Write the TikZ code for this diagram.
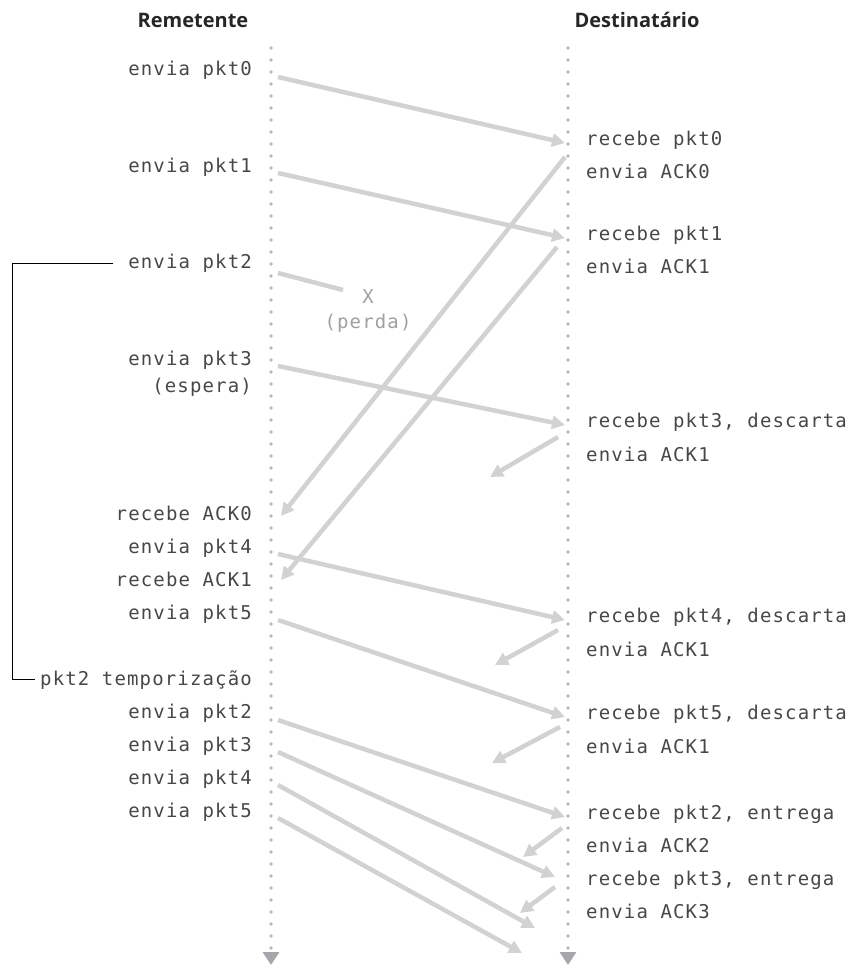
\documentclass[tikz,border=0pt]{standalone}
\usepackage{fontspec}
\setmonofont[LetterSpace=6]{DejaVu Sans Mono}
\newfontfamily\headfont{Open Sans}
\usetikzlibrary{arrows.meta,positioning}
\definecolor{seqtext}{HTML}{474747}
\definecolor{seqarrow}{HTML}{D2D2D2}
\definecolor{seqdot}{HTML}{B8B8BD}
\definecolor{seqtip}{HTML}{A6A6AB}
\definecolor{seqlost}{HTML}{A0A0A0}

\begin{document}
\begin{tikzpicture}[x=1pt,y=-1pt, every node/.style={inner sep=0pt}]
\tikzset{lbl/.style={font=\fontsize{19}{22}\selectfont\ttfamily,text=seqtext}, sndlbl/.style={lbl,anchor=mid east}, rcvlbl/.style={lbl,anchor=mid west}, head/.style={font=\fontsize{20}{24}\selectfont\headfont\bfseries,text=black!85}, life/.style={draw=seqdot,line width=3.6pt,line cap=round,dash pattern=on 0pt off 12pt,-{Triangle[length=13pt,width=16pt,color=seqtip]}}, msg/.style={draw=seqarrow,line width=4.5pt,-{Triangle[length=13pt,width=13pt]}}, lostmsg/.style={draw=seqarrow,line width=4.5pt}, bracket/.style={draw=black,line width=0.8pt}}
\useasboundingbox (0,0) rectangle (852,967);
% lifelines
\node[head] (rem) at (193,20) {Remetente};
\node[head] (dst) at (637,20) {Destinatário};
\coordinate (ltop) at (271,48);
\coordinate (lbot) at (271,965);
\coordinate (rtop) at (568,48);
\coordinate (rbot) at (568,965);
\draw[life] (ltop) -- (lbot);
\draw[life] (rtop) -- (rbot);
% sender side
\node[sndlbl] (snd0) at (252,73) {envia pkt0};
\node[sndlbl] (snd1) at (252,170) {envia pkt1};
\node[sndlbl] (snd2) at (252,266) {envia pkt2};
\node[sndlbl] (snd3) at (252,363) {envia pkt3};
\node[sndlbl] (wait) at (252,390) {(espera)};
\node[sndlbl] (rack0) at (252,518) {recebe ACK0};
\node[sndlbl] (snd4) at (252,551) {envia pkt4};
\node[sndlbl] (rack1) at (252,584) {recebe ACK1};
\node[sndlbl] (snd5) at (252,617) {envia pkt5};
\node[sndlbl] (tmo) at (252,683) {pkt2 temporização};
\node[sndlbl] (re2) at (252,716) {envia pkt2};
\node[sndlbl] (re3) at (252,749) {envia pkt3};
\node[sndlbl] (re4) at (252,782) {envia pkt4};
\node[sndlbl] (re5) at (252,815) {envia pkt5};
% receiver side
\node[rcvlbl] (rcv0) at (586,143) {recebe pkt0};
\node[rcvlbl] (ack0) at (586,176) {envia ACK0};
\node[rcvlbl] (rcv1) at (586,238) {recebe pkt1};
\node[rcvlbl] (ack1) at (586,271) {envia ACK1};
\node[rcvlbl] (rcv3) at (586,425) {recebe pkt3, descarta};
\node[rcvlbl] (ack1b) at (586,459) {envia ACK1};
\node[rcvlbl] (rcv4) at (586,620) {recebe pkt4, descarta};
\node[rcvlbl] (ack1c) at (586,654) {envia ACK1};
\node[rcvlbl] (rcv5) at (586,717) {recebe pkt5, descarta};
\node[rcvlbl] (ack1d) at (586,751) {envia ACK1};
\node[rcvlbl] (dlv2) at (586,817) {recebe pkt2, entrega};
\node[rcvlbl] (ack2) at (586,850) {envia ACK2};
\node[rcvlbl] (dlv3) at (586,883) {recebe pkt3, entrega};
\node[rcvlbl] (ack3) at (586,916) {envia ACK3};
% loss of pkt2
\coordinate (lost2) at (343,290);
\node[lbl,text=seqlost] (xmark) at (368,297) {X};
\node[lbl,text=seqlost] (perda) at (368,323) {(perda)};
% data packets
\draw[msg] ([xshift=26pt,yshift=-4pt]snd0.mid east) -- ([xshift=-21pt]rcv0.mid west);
\draw[msg] ([xshift=26pt,yshift=-3pt]snd1.mid east) -- ([xshift=-21pt]rcv1.mid west);
\draw[lostmsg] ([xshift=26pt,yshift=-7pt]snd2.mid east) -- (lost2);
\draw[msg] ([xshift=26pt,yshift=-3pt]snd3.mid east) -- ([xshift=-21pt]rcv3.mid west);
\draw[msg] ([xshift=26pt,yshift=-3pt]snd4.mid east) -- ([xshift=-21pt]rcv4.mid west);
\draw[msg] ([xshift=26pt,yshift=-3pt]snd5.mid east) -- ([xshift=-21pt]rcv5.mid west);
\draw[msg] ([xshift=26pt,yshift=-4pt]re2.mid east) -- ([xshift=-21pt]dlv2.mid west);
\draw[msg] ([xshift=26pt,yshift=-3pt]re3.mid east) -- ([xshift=-31pt,yshift=6pt]dlv3.mid west);
\coordinate (fly4) at (535,928);
\coordinate (fly5) at (522,953);
\draw[msg] ([xshift=26pt,yshift=-3pt]re4.mid east) -- (fly4);
\draw[msg] ([xshift=26pt,yshift=-3pt]re5.mid east) -- (fly5);
% acks
\draw[msg] ([xshift=-21pt,yshift=-14pt]rcv0.mid west) -- ([xshift=29pt,yshift=2pt]rack0.mid east);
\draw[msg] ([xshift=-29pt,yshift=-9pt]rcv1.mid west) -- ([xshift=29pt,yshift=4pt]rack1.mid east);
\coordinate (lostA) at (490,477);
\coordinate (lostB) at (495,665);
\coordinate (lostC) at (492,763);
\coordinate (lostD) at (523,857);
\coordinate (lostE) at (520,913);
\draw[msg] ([xshift=-28pt,yshift=-12pt]rcv3.mid west) -- (lostA);
\draw[msg] ([xshift=-28pt,yshift=-10pt]rcv4.mid west) -- (lostB);
\draw[msg] ([xshift=-26pt,yshift=-10pt]rcv5.mid west) -- (lostC);
\draw[msg] ([xshift=-24pt,yshift=-11pt]dlv2.mid west) -- (lostD);
\draw[msg] ([xshift=-31pt,yshift=-4pt]dlv3.mid west) -- (lostE);
% timer bracket
\coordinate (brk) at (12,0);
\draw[bracket] ([xshift=-15pt]snd2.west) -| (brk |- tmo.west) -- ([xshift=-5pt]tmo.west);
\end{tikzpicture}
\end{document}
